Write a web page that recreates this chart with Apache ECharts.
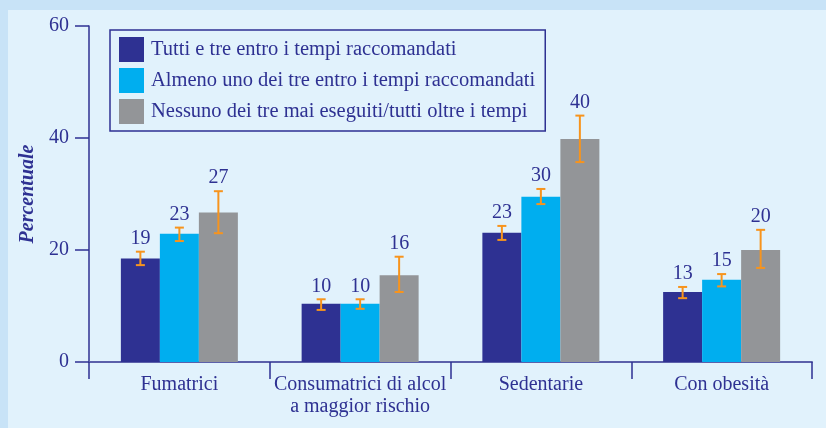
<!DOCTYPE html>
<html>
<head>
<meta charset="utf-8">
<script src="https://cdn.jsdelivr.net/npm/echarts@6/dist/echarts.min.js"></script>
<style>
html,body{margin:0;padding:0;background:#c8e3f7;}
#c{width:826px;height:428px;}
</style>
</head>
<body>
<div id="c"></div>
<script>
var categories = ['Fumatrici', 'Consumatrici di alcol\na maggior rischio', 'Sedentarie', 'Con obesità'];
var seriesNames = [
  'Tutti e tre entro i tempi raccomandati',
  'Almeno uno dei tre entro i tempi raccomandati',
  'Nessuno dei tre mai eseguiti/tutti oltre i tempi'
];
var tutti = [18.5, 10.4, 23.1, 12.5];
var almeno = [22.9, 10.4, 29.5, 14.7];
var nessuno = [26.7, 15.5, 39.8, 20.0];
var tuttiLo = [17.3, 9.3, 21.8, 11.4];
var tuttiHi = [19.7, 11.2, 24.3, 13.4];
var almenoLo = [21.6, 9.5, 28.2, 13.5];
var almenoHi = [24.0, 11.2, 30.9, 15.7];
var nessunoLo = [23.0, 12.5, 35.7, 16.8];
var nessunoHi = [30.5, 18.8, 44.0, 23.6];
var yTicks = [0, 20, 40, 60];

var colors = ['#2e3192', '#00aeef', '#939598'];
var textColor = '#2e3192';
var errColor = '#f7941d';
var font = '"Liberation Serif", "DejaVu Serif", serif';
var BAR_W = 39;

var values = [tutti, almeno, nessuno];
var lows = [tuttiLo, almenoLo, nessunoLo];
var highs = [tuttiHi, almenoHi, nessunoHi];

var chart = echarts.init(document.getElementById('c'), null, {renderer: 'canvas'});

var series = [];
values.forEach(function (vals, si) {
  series.push({
    name: seriesNames[si],
    type: 'bar',
    data: vals,
    barWidth: BAR_W,
    barGap: '0%',
    itemStyle: {color: colors[si]},
    z: 2
  });
});
values.forEach(function (vals, si) {
  var data = vals.map(function (v, i) { return [i, lows[si][i], highs[si][i], v]; });
  series.push({
    type: 'custom',
    name: 'err' + si,
    data: data,
    z: 5,
    encode: {x: 0, y: [1, 2]},
    renderItem: function (params, api) {
      var ci = api.value(0);
      var lo = api.coord([ci, api.value(1)]);
      var hi = api.coord([ci, api.value(2)]);
      var x = lo[0] + (si - 1) * BAR_W;
      var cap = 4.5;
      return {
        type: 'group',
        children: [
          {type: 'line', shape: {x1: x, y1: lo[1], x2: x, y2: hi[1]}, style: {stroke: errColor, lineWidth: 2}},
          {type: 'line', shape: {x1: x - cap, y1: lo[1], x2: x + cap, y2: lo[1]}, style: {stroke: errColor, lineWidth: 2}},
          {type: 'line', shape: {x1: x - cap, y1: hi[1], x2: x + cap, y2: hi[1]}, style: {stroke: errColor, lineWidth: 2}},
          {type: 'text', style: {text: String(Math.round(api.value(3))), x: x, y: hi[1] - 3, textAlign: 'center', textVerticalAlign: 'bottom', fill: textColor, font: '20px ' + font}}
        ]
      };
    }
  });
});

chart.setOption({
  animation: false,
  backgroundColor: '#c8e3f7',
  graphic: [{
    type: 'rect', left: 8, top: 10, shape: {width: 818, height: 418}, style: {fill: '#e1f2fc'}, z: -10, silent: true
  }],
  grid: {left: 89, top: 26, right: 14, bottom: 66, containLabel: false},
  legend: {
    data: seriesNames,
    orient: 'vertical',
    left: 110,
    top: 30,
    itemWidth: 25,
    itemHeight: 25,
    itemGap: 6,
    icon: 'rect',
    padding: [7, 10, 7, 9],
    borderColor: '#2e3192',
    borderWidth: 1.5,
    backgroundColor: '#e1f2fc',
    textStyle: {color: textColor, fontSize: 20.5, fontFamily: font, padding: [0, 0, 0, 2]}
  },
  xAxis: {
    type: 'category',
    data: categories,
    boundaryGap: true,
    axisLine: {show: true, lineStyle: {color: '#5b60aa', width: 2}},
    axisTick: {show: true, length: 17, alignWithLabel: false, lineStyle: {color: '#2e3192', width: 1.5}},
    axisLabel: {color: textColor, fontSize: 20, fontFamily: font, margin: 12, lineHeight: 22, interval: 0}
  },
  yAxis: {
    type: 'value',
    min: 0, max: 60, interval: 20,
    name: 'Percentuale',
    nameLocation: 'middle',
    nameRotate: 90,
    nameGap: 50,
    nameTextStyle: {color: textColor, fontSize: 20, fontFamily: font, fontStyle: 'italic', fontWeight: 'bold'},
    axisLine: {show: true, lineStyle: {color: '#2e3192', width: 1.5}},
    axisTick: {show: true, length: 14, lineStyle: {color: '#2e3192', width: 1.5}},
    splitLine: {show: false},
    axisLabel: {color: textColor, fontSize: 20, fontFamily: font, margin: 20,
      formatter: function (v) { return yTicks.indexOf(v) >= 0 ? String(v) : ''; }}
  },
  series: series
});
</script>
</body>
</html>
